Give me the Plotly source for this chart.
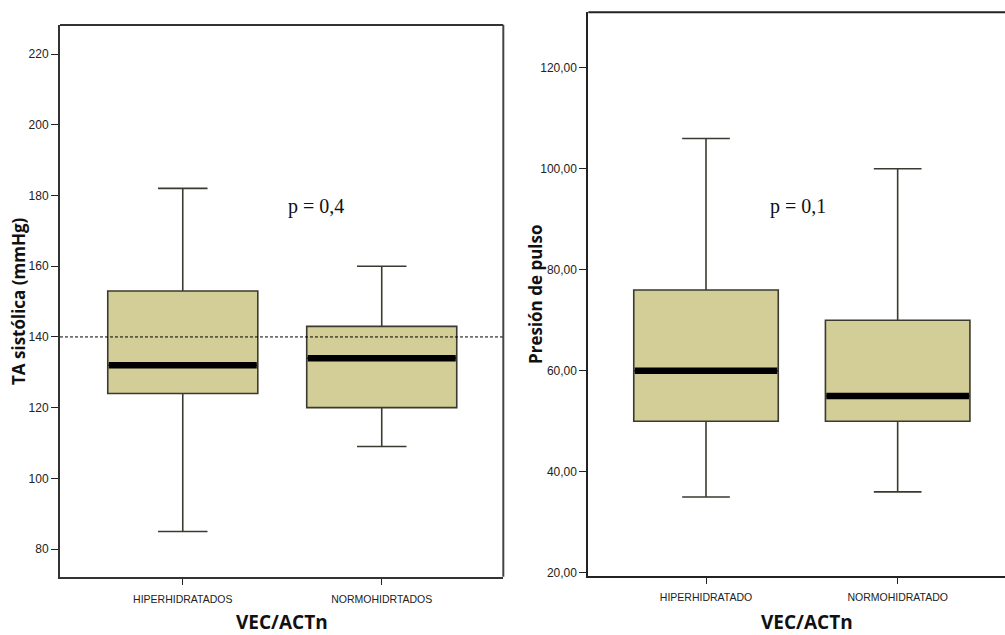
import plotly.graph_objects as go

# ---- data ----
left_categories = ["HIPERHIDRATADOS", "NORMOHIDRTADOS"]
left_lower = [85, 109]
left_q1 = [124, 120]
left_median = [132, 134]
left_q3 = [153, 143]
left_upper = [182, 160]
left_ref = 140
left_ticks = [80, 100, 120, 140, 160, 180, 200, 220]
left_p = "p = 0,4"

right_categories = ["HIPERHIDRATADO", "NORMOHIDRATADO"]
right_lower = [35, 36]
right_q1 = [50, 50]
right_median = [60, 55]
right_q3 = [76, 70]
right_upper = [106, 100]
right_ticks = [20, 40, 60, 80, 100, 120]
right_tick_text = ["20,00", "40,00", "60,00", "80,00", "100,00", "120,00"]
right_p = "p = 0,1"

# ---- style ----
BOX_FILL = "#D3CE97"
BOX_LINE = "#3a3a30"
BOX_W = 0.754
YTICK_FONT = dict(family="Liberation Sans, Arial, sans-serif", size=12, color="#222")
XTICK_FONT = dict(family="Liberation Sans, Arial, sans-serif", size=10.5, color="#222")
TITLE_FONT = dict(family="Open Sans, DejaVu Sans, sans-serif", size=17, color="#111")
XTITLE_FONT = dict(family="Open Sans, DejaVu Sans, sans-serif", size=19, color="#111")
P_FONT = dict(family="Liberation Serif, Times New Roman, serif", size=20, color="#111")

fig = go.Figure()


def add_panel(xa, ya, lower, q1, med, q3, upper):
    xs = list(range(len(med)))
    fig.add_trace(go.Box(
        x=xs, q1=q1, median=med, q3=q3, lowerfence=lower, upperfence=upper,
        width=BOX_W, whiskerwidth=0.33, boxpoints=False,
        fillcolor=BOX_FILL, line=dict(color=BOX_LINE, width=1.6),
        xaxis=xa, yaxis=ya, showlegend=False, hoverinfo="skip",
    ))
    mx, my = [], []
    for i, m in zip(xs, med):
        mx += [i - BOX_W / 2 + 0.005, i + BOX_W / 2 - 0.005, None]
        my += [m, m, None]
    fig.add_trace(go.Scatter(x=mx, y=my, mode="lines",
                             line=dict(color="black", width=6.5),
                             xaxis=xa, yaxis=ya, showlegend=False, hoverinfo="skip"))


add_panel("x", "y", left_lower, left_q1, left_median, left_q3, left_upper)
add_panel("x2", "y2", right_lower, right_q1, right_median, right_q3, right_upper)

# reference line at 140 on left panel
fig.add_shape(type="line", xref="x domain", yref="y", x0=0, x1=1, y0=left_ref, y1=left_ref,
              line=dict(color="black", width=1, dash="3px,2px"))
# frame lines (top/right of left panel, top of right panel)
fig.add_shape(type="line", xref="x domain", yref="y domain", x0=0, x1=1, y0=1, y1=1,
              line=dict(color="#333", width=2))
fig.add_shape(type="line", xref="x domain", yref="y domain", x0=1, x1=1, y0=0, y1=1,
              line=dict(color="#444", width=2))
fig.add_shape(type="line", xref="x2 domain", yref="y2 domain", x0=0, x1=1, y0=1, y1=1,
              line=dict(color="#222", width=2))

axis_common = dict(showgrid=False, zeroline=False, ticks="outside", tickcolor="#222",
                   automargin=False, linewidth=2, showline=True, mirror=False)

fig.update_layout(
    width=1005, height=635,
    margin=dict(l=0, r=0, t=0, b=0, pad=0),
    paper_bgcolor="white", plot_bgcolor="white",
    xaxis=dict(domain=[0.0597, 0.5008], range=[-0.617, 1.611], tickvals=[0, 1],
               ticktext=left_categories, ticklen=6, linecolor="#333", ticklabelstandoff=6,
               anchor="y", tickfont=XTICK_FONT, **axis_common),
    yaxis=dict(domain=[0.0918, 0.9606], range=[72.2, 228.2], tickvals=left_ticks,
               ticklen=7, linecolor="#333", anchor="x",
               tickfont=YTICK_FONT, **axis_common),
    xaxis2=dict(domain=[0.5854, 1.0], range=[-0.614, 1.56], tickvals=[0, 1],
                ticktext=right_categories, ticklen=6, linecolor="#222", ticklabelstandoff=5,
                anchor="y2", tickfont=XTICK_FONT, **axis_common),
    yaxis2=dict(domain=[0.0934, 0.9806], range=[19.4, 131.0], tickvals=right_ticks,
                ticktext=right_tick_text, ticklen=7, linecolor="#222",
                anchor="x2", tickfont=YTICK_FONT, **axis_common),
)

# axis titles and p-values as annotations
fig.add_annotation(text="<b>TA sistólica (mmHg)</b>", xref="paper", yref="paper",
                   x=18 / 1005, y=1 - 301 / 635, textangle=-90, showarrow=False,
                   font=TITLE_FONT, xanchor="center", yanchor="middle")
fig.add_annotation(text="<b>Presión de pulso</b>", xref="paper", yref="paper",
                   x=535 / 1005, y=1 - 294 / 635, textangle=-90, showarrow=False,
                   font=TITLE_FONT, xanchor="center", yanchor="middle")
fig.add_annotation(text="<b>VEC/ACTn</b>", xref="paper", yref="paper",
                   x=282 / 1005, y=1 - 622 / 635, showarrow=False,
                   font=XTITLE_FONT, xanchor="center", yanchor="middle")
fig.add_annotation(text="<b>VEC/ACTn</b>", xref="paper", yref="paper",
                   x=807 / 1005, y=1 - 622 / 635, showarrow=False,
                   font=XTITLE_FONT, xanchor="center", yanchor="middle")
fig.add_annotation(text=left_p, xref="paper", yref="paper",
                   x=316 / 1005, y=1 - 206 / 635, showarrow=False, font=P_FONT,
                   xanchor="center", yanchor="middle")
fig.add_annotation(text=right_p, xref="paper", yref="paper",
                   x=798 / 1005, y=1 - 206 / 635, showarrow=False, font=P_FONT,
                   xanchor="center", yanchor="middle")

fig.write_html("out.html")
